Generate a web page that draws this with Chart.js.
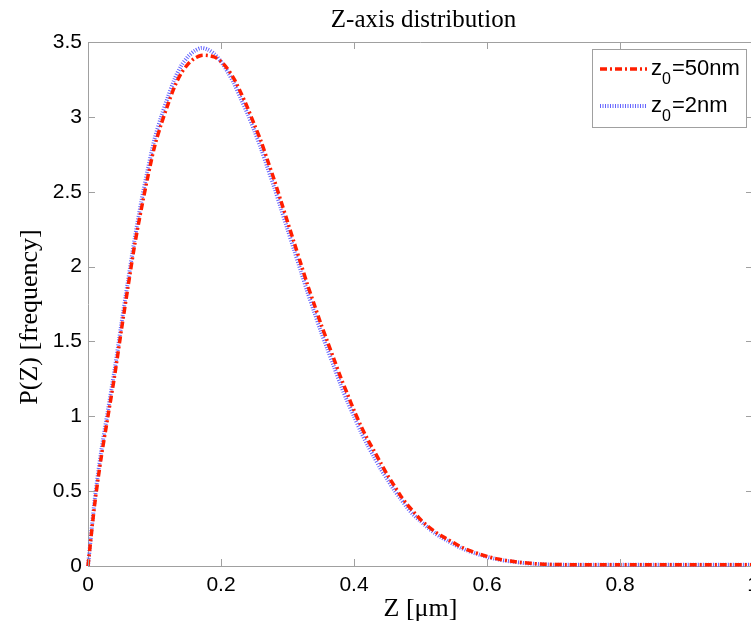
<!DOCTYPE html>
<html>
<head>
<meta charset="utf-8">
<title>Z-axis distribution</title>
<script src="https://cdn.jsdelivr.net/npm/chart.js@4.4.1/dist/chart.umd.min.js"></script>
<style>
  html, body { margin: 0; padding: 0; background: #fff; overflow: hidden; }
  #wrap { position: relative; width: 770px; height: 629px; }
</style>
</head>
<body>
<div id="wrap"><canvas id="chart"></canvas></div>
<script>
// Z positions (um) at 0.01 steps
const zValues = [
  0.00, 0.01, 0.02, 0.03, 0.04, 0.05, 0.06, 0.07, 0.08, 0.09,
  0.10, 0.11, 0.12, 0.13, 0.14, 0.15, 0.16, 0.17, 0.18, 0.19,
  0.20, 0.21, 0.22, 0.23, 0.24, 0.25, 0.26, 0.27, 0.28, 0.29,
  0.30, 0.31, 0.32, 0.33, 0.34, 0.35, 0.36, 0.37, 0.38, 0.39,
  0.40, 0.41, 0.42, 0.43, 0.44, 0.45, 0.46, 0.47, 0.48, 0.49,
  0.50, 0.51, 0.52, 0.53, 0.54, 0.55, 0.56, 0.57, 0.58, 0.59,
  0.60, 0.61, 0.62, 0.63, 0.64, 0.65, 0.66, 0.67, 0.68, 0.69,
  0.70, 0.72, 0.74, 0.76, 0.78, 0.80, 0.85, 0.90, 0.95, 1.00
];

// P(Z) for z0 = 50nm (red dash-dot)
const p50nm = [
  0.00, 0.41, 0.73, 1.00, 1.27, 1.57, 1.86, 2.14, 2.38, 2.60,
  2.80, 2.95, 3.08, 3.20, 3.29, 3.35, 3.39, 3.41, 3.41, 3.40,
  3.37, 3.32, 3.25, 3.16, 3.06, 2.95, 2.84, 2.71, 2.58, 2.44,
  2.30, 2.16, 2.02, 1.88, 1.75, 1.62, 1.50, 1.38, 1.26, 1.15,
  1.04, 0.94, 0.85, 0.77, 0.69, 0.61, 0.54, 0.47, 0.41, 0.36,
  0.31, 0.27, 0.235, 0.205, 0.18, 0.155, 0.13, 0.11, 0.093, 0.078,
  0.064, 0.053, 0.044, 0.036, 0.030, 0.024, 0.020, 0.016, 0.013, 0.011,
  0.010, 0.009, 0.008, 0.008, 0.008, 0.008, 0.008, 0.008, 0.008, 0.008
];

// P(Z) for z0 = 2nm (blue dotted)
const p2nm = [
  0.00, 0.44, 0.77, 1.04, 1.31, 1.61, 1.90, 2.18, 2.43, 2.65,
  2.85, 3.00, 3.13, 3.25, 3.34, 3.40, 3.44, 3.46, 3.45, 3.42,
  3.37, 3.30, 3.22, 3.12, 3.02, 2.91, 2.79, 2.66, 2.53, 2.39,
  2.25, 2.11, 1.97, 1.83, 1.70, 1.57, 1.45, 1.33, 1.21, 1.10,
  1.00, 0.90, 0.81, 0.73, 0.65, 0.58, 0.51, 0.45, 0.39, 0.34,
  0.30, 0.26, 0.225, 0.195, 0.17, 0.145, 0.123, 0.104, 0.088, 0.074,
  0.061, 0.050, 0.041, 0.034, 0.028, 0.023, 0.018, 0.015, 0.012, 0.010,
  0.009, 0.008, 0.008, 0.008, 0.008, 0.008, 0.008, 0.008, 0.008, 0.008
];

const xTicks = [0, 0.2, 0.4, 0.6, 0.8, 1];
const yTicks = [0, 0.5, 1, 1.5, 2, 2.5, 3, 3.5];

const legendLabels = [
  { base: 'z', sub: '0', rest: '=50nm' },
  { base: 'z', sub: '0', rest: '=2nm' }
];

const titleText = 'Z-axis distribution';
const xTitle = 'Z [\u03bcm]';
const yTitle = 'P(Z) [frequency]';

const axisGray = '#a0a0a0';
const redColor = 'rgb(255,30,0)';
const blueColor = 'rgba(70,70,255,0.85)';
const redDash = [7, 3, 2, 3];
const blueDash = [1, 1.5];

function points(ys) {
  return zValues.map((z, i) => ({ x: z, y: ys[i] }));
}

// "1" not "1.0", like MATLAB
function tickText(v) {
  return String(+Number(v).toFixed(2));
}

// MATLAB-like frame: inward ticks on all four sides, titles and legend
const matlabFrame = {
  id: 'matlabFrame',
  afterDraw(chart) {
    const ctx = chart.ctx;
    const a = chart.chartArea;
    const xs = chart.scales.x;
    const ys = chart.scales.y;
    const tl = 7;

    ctx.save();
    ctx.strokeStyle = axisGray;
    ctx.lineWidth = 1;
    ctx.beginPath();
    ctx.moveTo(a.left, a.top + 0.5);
    ctx.lineTo(a.right, a.top + 0.5);
    ctx.moveTo(a.right - 0.5, a.top);
    ctx.lineTo(a.right - 0.5, a.bottom);
    xTicks.forEach(v => {
      const px = Math.round(xs.getPixelForValue(v)) + 0.5;
      ctx.moveTo(px, a.bottom);
      ctx.lineTo(px, a.bottom - tl);
      ctx.moveTo(px, a.top);
      ctx.lineTo(px, a.top + tl);
    });
    yTicks.forEach(v => {
      const py = Math.round(ys.getPixelForValue(v)) + 0.5;
      ctx.moveTo(a.left, py);
      ctx.lineTo(a.left + tl, py);
      ctx.moveTo(a.right, py);
      ctx.lineTo(a.right - tl, py);
    });
    ctx.stroke();

    // titles
    ctx.fillStyle = '#000';
    ctx.font = '25px "Liberation Serif"';
    ctx.textAlign = 'center';
    ctx.textBaseline = 'alphabetic';
    ctx.fillText(titleText, (a.left + a.right) / 2 + 3, 27);

    ctx.font = '26px "Liberation Serif"';
    ctx.fillText(xTitle, (a.left + a.right) / 2, 616);

    ctx.save();
    ctx.translate(37, 317);
    ctx.rotate(-Math.PI / 2);
    ctx.fillText(yTitle, 0, 0);
    ctx.restore();

    // legend box
    const bx = 592, by = 49, bw = 154, bh = 78;
    ctx.fillStyle = '#fff';
    ctx.fillRect(bx, by, bw, bh);
    ctx.strokeStyle = axisGray;
    ctx.strokeRect(bx + 0.5, by + 0.5, bw, bh);

    const rows = [
      { y: 69, color: redColor, width: 3.5, dash: redDash },
      { y: 106, color: blueColor, width: 4, dash: blueDash }
    ];
    rows.forEach((r, i) => {
      ctx.beginPath();
      ctx.strokeStyle = r.color;
      ctx.lineWidth = r.width;
      ctx.setLineDash(r.dash);
      ctx.moveTo(600, r.y);
      ctx.lineTo(647, r.y);
      ctx.stroke();
      ctx.setLineDash([]);

      const lab = legendLabels[i];
      ctx.fillStyle = '#000';
      ctx.textAlign = 'left';
      ctx.textBaseline = 'alphabetic';
      ctx.font = '22px "Liberation Sans"';
      let x = 651;
      const base = r.y + 6;
      ctx.fillText(lab.base, x, base);
      x += ctx.measureText(lab.base).width;
      ctx.font = '16px "Liberation Sans"';
      ctx.fillText(lab.sub, x, base + 9);
      x += ctx.measureText(lab.sub).width + 1;
      ctx.font = '22px "Liberation Sans"';
      ctx.fillText(lab.rest, x, base);
    });
    ctx.restore();
  }
};

const ctx = document.getElementById('chart').getContext('2d');

new Chart(ctx, {
  type: 'line',
  data: {
    datasets: [
      {
        label: 'z0=50nm',
        data: points(p50nm),
        borderColor: redColor,
        borderWidth: 3.5,
        borderDash: redDash,
        pointRadius: 0,
        tension: 0.3,
        fill: false,
        clip: false
      },
      {
        label: 'z0=2nm',
        data: points(p2nm),
        borderColor: blueColor,
        borderWidth: 4,
        borderDash: blueDash,
        pointRadius: 0,
        tension: 0.3,
        fill: false,
        clip: false
      }
    ]
  },
  options: {
    responsive: true,
    maintainAspectRatio: false,
    animation: false,
    layout: { padding: { top: 42, right: 17, bottom: 0, left: 0 } },
    plugins: {
      legend: { display: false },
      tooltip: { enabled: false },
      title: { display: false }
    },
    scales: {
      x: {
        type: 'linear',
        min: 0,
        max: 1,
        afterBuildTicks: s => { s.ticks = xTicks.map(v => ({ value: v })); },
        afterFit: s => { s.height = 63; },
        grid: { drawOnChartArea: false, drawTicks: false },
        border: { color: axisGray, width: 1 },
        ticks: {
          color: '#000',
          padding: 7,
          maxRotation: 0,
          font: { family: 'Liberation Sans', size: 21 },
          callback: tickText
        }
      },
      y: {
        type: 'linear',
        min: 0,
        max: 3.5,
        afterBuildTicks: s => { s.ticks = yTicks.map(v => ({ value: v })); },
        afterFit: s => { s.width = 88; },
        grid: { drawOnChartArea: false, drawTicks: false },
        border: { color: axisGray, width: 1 },
        ticks: {
          color: '#000',
          padding: 6,
          font: { family: 'Liberation Sans', size: 21 },
          callback: tickText
        }
      }
    }
  },
  plugins: [matlabFrame]
});
</script>
</body>
</html>
